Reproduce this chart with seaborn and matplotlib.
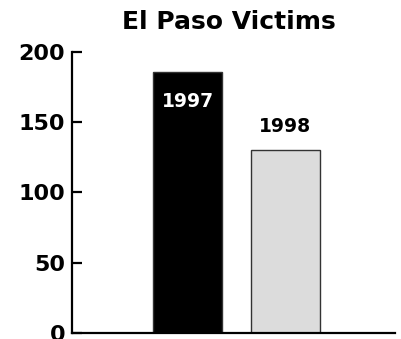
import matplotlib
matplotlib.use("Agg")
import matplotlib.pyplot as plt
import seaborn as sns
import pandas as pd

sns.set_style("white")
plt.rcParams['font.family'] = ['DejaVu Sans']
plt.rcParams['text.color'] = 'black'
plt.rcParams['ytick.color'] = 'black'

# data
years = ["1997", "1998"]
victims = [186, 130]
bar_colors = ["#000000", "#dcdcdc"]

df = pd.DataFrame({"year": years, "victims": victims})

fig = plt.figure(figsize=(4.01, 3.39), dpi=100)
ax = fig.add_axes([0.18, 0.018, 0.805, 0.829])

sns.barplot(
    data=df,
    x="year",
    y="victims",
    hue="year",
    palette=bar_colors,
    width=0.7,
    edgecolor="#333333",
    linewidth=1,
    legend=False,
    ax=ax
)

# year labels on the bars
ax.text(0, victims[0] - 21, years[0], color="white", ha="center",
        va="center", fontsize=13.5, fontweight="bold")
ax.text(1, victims[1] + 17, years[1], color="black", ha="center",
        va="center", fontsize=13.5, fontweight="bold")

ax.set_ylim(0, 200)
ax.set_xlim(-1.18, 2.12)
ax.set_yticks([0, 50, 100, 150, 200])
ax.set_xticks([])
ax.set_xlabel("")
ax.set_ylabel("")

for s in ["top", "right"]:
    ax.spines[s].set_visible(False)
for s in ["left", "bottom"]:
    ax.spines[s].set_linewidth(1.6)
    ax.spines[s].set_color("black")

ax.tick_params(axis="y", left=True, direction="in", length=7, width=1.6,
               pad=5, labelsize=16, colors="black")
for lab in ax.get_yticklabels():
    lab.set_fontweight("bold")

fig.text(0.572, 0.935, "El Paso Victims", ha="center", va="center",
         fontsize=18, fontweight="bold", color="black")

fig.savefig("out.png", dpi=100)
